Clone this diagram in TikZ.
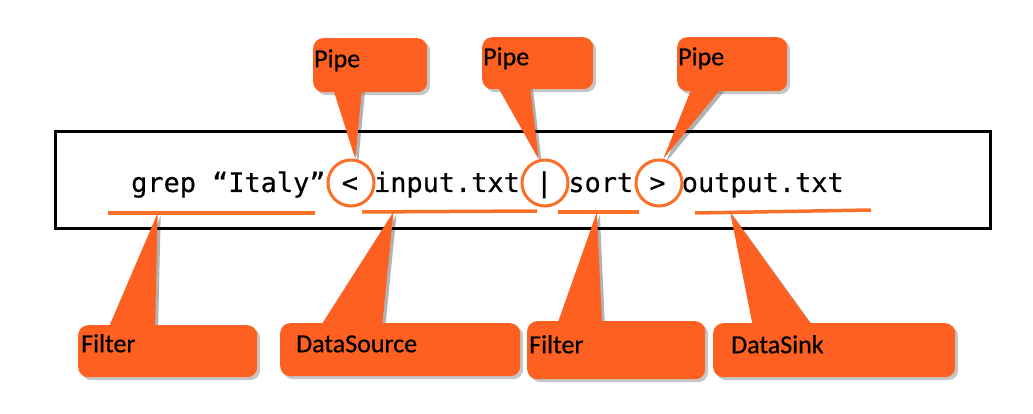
\documentclass[tikz,border=0pt]{standalone}
\usepackage{fontspec}
\newfontfamily\calloutfont[FakeBold=0.6]{Carlito}
\newfontfamily\cmdfont[FakeBold=0.4]{DejaVu Sans Mono}
\usetikzlibrary{calc,shadows,backgrounds}
\definecolor{boxorange}{RGB}{253,96,32}
\definecolor{lineorange}{RGB}{250,112,40}
\tikzset{
	callout/.style={fill=boxorange, rounded corners=10pt, anchor=north west, inner ysep=0pt, align=left,
		font=\calloutfont\fontsize{26}{30}\selectfont,
		drop shadow={shadow xshift=3pt, shadow yshift=-3pt, opacity=0.45}},
	pointer/.style={fill=boxorange},
	pointershadow/.style={fill=black, opacity=0.3, transform canvas={shift={(3pt,-3pt)}}},
	ring/.style={circle, draw=lineorange, line width=3pt, minimum size=46pt, inner sep=0pt},
	underline/.style={draw=lineorange, line width=3.5pt},
}
\begin{document}
\begin{tikzpicture}[x=1pt, y=-1pt]
		\useasboundingbox (0,0) rectangle (1033,414);
		\draw[line width=3pt] (55,132) rectangle (990,228);
		\node[anchor=base west, inner sep=0pt, font=\cmdfont\fontsize{26.9}{30}\selectfont] (cmd) at (131,192) {grep “Italy” < input.txt | sort > output.txt};
		
		\node[ring] (lt) at (351,183) {};
		\node[ring] (bar) at (545,183) {};
		\node[ring] (gt) at (659,183) {};
		
		\draw[underline] (108,213) -- coordinate[pos=0.24] (ulA) (315,213);
		\draw[underline] (362,212) -- coordinate[pos=0.18] (ulB) (537,211);
		\draw[underline] (558,212) -- coordinate[pos=0.48] (ulC) (639,212);
		\draw[underline] (695,213) -- coordinate[pos=0.2] (ulD) (871,210);
		
		\node[callout, inner xsep=1pt, text width=112pt, text height=29pt, text depth=25pt] (pipeA) at (313,38) {Pipe};
		\node[callout, inner xsep=1pt, text width=109pt, text height=28pt, text depth=24pt] (pipeB) at (482,37) {Pipe};
		\node[callout, inner xsep=1pt, text width=108pt, text height=28pt, text depth=26pt] (pipeC) at (677,37) {Pipe};
		\node[callout, inner xsep=3pt, text width=173pt, text height=27pt, text depth=25pt] (filterA) at (78,325) {Filter};
		\node[callout, inner xsep=16pt, text width=208pt, text height=29pt, text depth=24pt] (source) at (280,323) {DataSource};
		\node[callout, inner xsep=2pt, text width=174pt, text height=32pt, text depth=26pt] (filterB) at (527,321) {Filter};
		\node[callout, inner xsep=18pt, text width=206pt, text height=30pt, text depth=24pt] (sink) at (713,323) {DataSink};
		
		\fill[pointer] ($(pipeA.south west)+(20,-4)$) -- (lt.80) -- ($(pipeA.south west)+(49,-4)$) -- cycle;
		\fill[pointer] ($(pipeB.south west)+(15,-4)$) -- (bar.105) -- ($(pipeB.south west)+(48,-4)$) -- cycle;
		\fill[pointer] ($(pipeC.south west)+(15,-4)$) -- (gt.80) -- ($(pipeC.south west)+(45,-4)$) -- cycle;
		\fill[pointer] ($(filterA.north west)+(30,4)$) -- (ulA) -- ($(filterA.north west)+(77,4)$) -- cycle;
		\fill[pointer] ($(source.north west)+(40,4)$) -- (ulB) -- ($(source.north west)+(102,4)$) -- cycle;
		\fill[pointer] ($(filterB.north west)+(30,4)$) -- (ulC) -- ($(filterB.north west)+(75,4)$) -- cycle;
		\fill[pointer] ($(sink.north west)+(40,4)$) -- (ulD) -- ($(sink.north west)+(100,4)$) -- cycle;
		
		\begin{scope}[on background layer]
		\fill[pointershadow] ($(pipeA.south west)+(20,-4)$) -- (lt.80) -- ($(pipeA.south west)+(49,-4)$) -- cycle;
		\fill[pointershadow] ($(pipeB.south west)+(15,-4)$) -- (bar.105) -- ($(pipeB.south west)+(48,-4)$) -- cycle;
		\fill[pointershadow] ($(pipeC.south west)+(15,-4)$) -- (gt.80) -- ($(pipeC.south west)+(45,-4)$) -- cycle;
		\fill[pointershadow] ($(filterA.north west)+(30,4)$) -- (ulA) -- ($(filterA.north west)+(77,4)$) -- cycle;
		\fill[pointershadow] ($(source.north west)+(40,4)$) -- (ulB) -- ($(source.north west)+(102,4)$) -- cycle;
		\fill[pointershadow] ($(filterB.north west)+(30,4)$) -- (ulC) -- ($(filterB.north west)+(75,4)$) -- cycle;
		\fill[pointershadow] ($(sink.north west)+(40,4)$) -- (ulD) -- ($(sink.north west)+(100,4)$) -- cycle;
		\end{scope}
\end{tikzpicture}
\end{document}
